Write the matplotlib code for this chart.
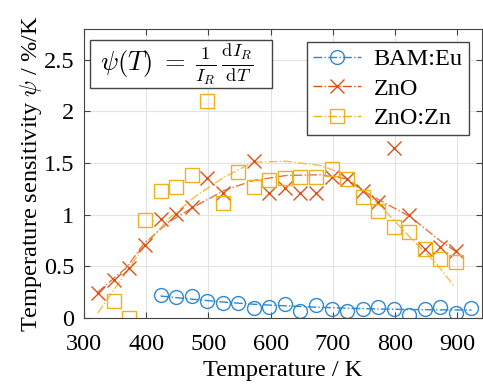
import numpy as np
import matplotlib
matplotlib.use('Agg')
import matplotlib.pyplot as plt
from matplotlib.lines import Line2D
from matplotlib.patches import Rectangle

plt.rcParams['font.family'] = ['Liberation Serif', 'DejaVu Serif']
plt.rcParams['mathtext.fontset'] = 'cm'
plt.rcParams['font.size'] = 17.5

# BAM:Eu
T_bam = [423, 448, 473, 498, 523, 548, 573, 598, 623, 648, 673, 698, 723, 748, 773, 798, 823, 848, 873, 898, 923]
psi_bam = [0.216, 0.200, 0.206, 0.161, 0.145, 0.145, 0.090, 0.103, 0.129, 0.061, 0.126, 0.087,
           0.061, 0.087, 0.103, 0.080, 0.029, 0.080, 0.103, 0.045, 0.097]
# ZnO
T_zno = [323, 348, 373, 398, 423, 448, 473, 498, 523, 573, 598, 623, 648, 673, 698, 723, 748, 773,
         798, 823, 848, 873, 898]
psi_zno = [0.242, 0.361, 0.484, 0.707, 0.959, 1.008, 1.078, 1.353, 1.207, 1.524, 1.207, 1.260,
           1.207, 1.207, 1.369, 1.347, 1.233, 1.120, 1.643, 0.991, 0.668, 0.684, 0.645]
# ZnO:Zn
T_znzn = [348, 373, 398, 423, 448, 473, 498, 523, 548, 573, 598, 623, 648, 673, 698, 723, 748, 773,
          798, 823, 848, 873, 898]
psi_znzn = [0.161, 0.0, 0.943, 1.224, 1.272, 1.386, 2.106, 1.114, 1.411, 1.266, 1.340, 1.353,
            1.369, 1.369, 1.444, 1.347, 1.169, 1.033, 0.878, 0.830, 0.668, 0.572, 0.539]

# fit curves
fit_T_bam = [423, 473, 523, 573, 623, 673, 723, 773, 823, 873, 923]
fit_bam = [0.210, 0.180, 0.152, 0.130, 0.115, 0.102, 0.092, 0.084, 0.079, 0.076, 0.074]
fit_T_zno = [322, 369, 396, 436, 476, 525, 572, 625, 679, 722, 748, 781, 824, 872, 899]
fit_zno = [0.248, 0.49, 0.717, 0.926, 1.072, 1.233, 1.33, 1.379, 1.386, 1.347, 1.233, 1.12, 0.982, 0.749, 0.636]
fit_T_znzn = [322, 396, 436, 480, 525, 572, 625, 679, 700, 733, 773, 824, 867, 896]
fit_znzn = [0.045, 0.684, 0.959, 1.18, 1.362, 1.508, 1.517, 1.476, 1.434, 1.314, 1.105, 0.781, 0.523, 0.297]

c_bam = '#2E88CF'
c_zno = '#D95319'
c_znzn = '#EDB120'

fig = plt.figure(figsize=(4.83, 3.86), dpi=100)
ax = fig.add_axes([0.174, 0.177, 0.824, 0.748])

ax.plot(fit_T_bam, fit_bam, '-.', color=c_bam, lw=1)
ax.plot(fit_T_zno, fit_zno, '-.', color=c_zno, lw=1, alpha=0.8)
ax.plot(fit_T_znzn, fit_znzn, '-.', color=c_znzn, lw=1, alpha=0.8)
ax.plot(T_bam, psi_bam, 'o', mfc='none', mec=c_bam, ms=10, mew=1)
ax.plot(T_zno, psi_zno, 'x', color=c_zno, ms=9.5, mew=1)
ax.plot(T_znzn, psi_znzn, 's', mfc='none', mec=c_znzn, ms=9.5, mew=1)

ax.set_xlim(300, 940)
ax.set_ylim(0, 2.8)
ax.set_xticks([300, 400, 500, 600, 700, 800, 900])
ax.set_yticks([0, 0.5, 1, 1.5, 2, 2.5])
ax.set_yticklabels(['0', '0.5', '1', '1.5', '2', '2.5'])
ax.grid(True, color='#e3e3e3', lw=0.8)
ax.set_axisbelow(True)
ax.tick_params(direction='in', top=True, right=True, length=4, color='#444444')
ax.tick_params(axis='x', pad=12)
ax.tick_params(axis='y', pad=7)
for s in ax.spines.values():
    s.set_color('#444444')
ax.set_xlabel('Temperature / K', labelpad=3)
ax.set_ylabel(r'Temperature sensitivity $\psi$ / %/K', labelpad=0)

handles = [
    Line2D([], [], ls='-.', color=c_bam, marker='o', mfc='none', ms=10, lw=1),
    Line2D([], [], ls='-.', color=c_zno, marker='x', ms=9.5, lw=1),
    Line2D([], [], ls='-.', color=c_znzn, marker='s', mfc='none', ms=9.5, lw=1),
]
leg = ax.legend(handles, ['BAM:Eu', 'ZnO', 'ZnO:Zn'], loc='upper right', fancybox=False,
                edgecolor='#444444', framealpha=1, borderaxespad=0.55, handlelength=2.0,
                handletextpad=0.5, labelspacing=0.3, borderpad=0.25)
leg.get_frame().set_linewidth(1)

# formula box
ax.add_patch(Rectangle((0.015, 0.795), 0.457, 0.167, transform=ax.transAxes,
                       fc='white', ec='#444444', lw=1, zorder=5))
ax.text(0.04, 0.878, r'$\psi(T)\;=\;\frac{1}{I_R}\,\frac{\mathrm{d}I_R}{\mathrm{d}T}$',
        transform=ax.transAxes, ha='left', va='center', fontsize=19, zorder=6)

fig.savefig('out.png', dpi=100)
